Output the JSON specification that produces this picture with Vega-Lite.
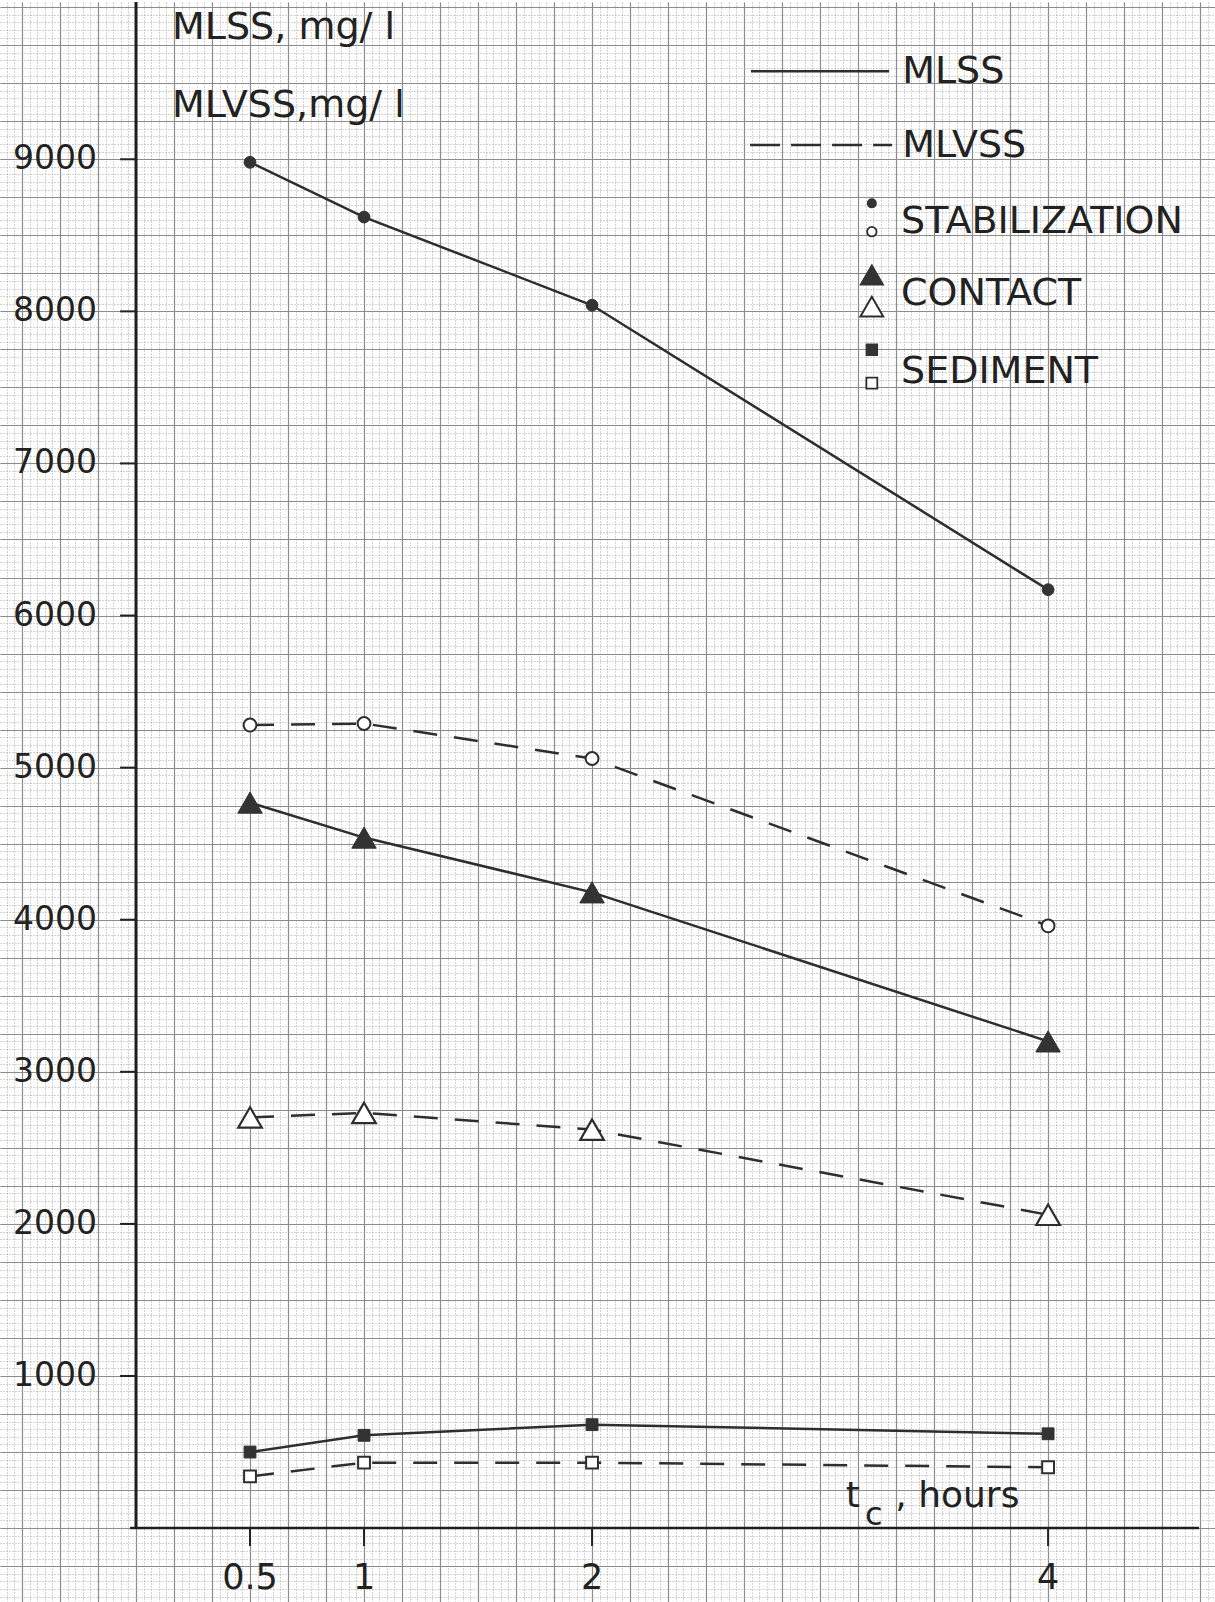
{
  "$schema": "https://vega.github.io/schema/vega-lite/v6.json",
  "width": 1215,
  "height": 1602,
  "autosize": {"type": "fit", "contains": "padding"},
  "padding": 0,
  "background": "white",
  "view": {"stroke": null},
  "config": {
    "text": {"font": "DejaVu Sans", "color": "#222222"},
    "axis": {"minExtent": 0, "maxExtent": 0, "labels": false, "ticks": false, "domain": false}
  },
  "datasets": {
    "series": [
      {"t": 0.5, "process": "STABILIZATION", "measure": "MLSS", "value": 8980},
      {"t": 1, "process": "STABILIZATION", "measure": "MLSS", "value": 8620},
      {"t": 2, "process": "STABILIZATION", "measure": "MLSS", "value": 8040},
      {"t": 4, "process": "STABILIZATION", "measure": "MLSS", "value": 6170},
      {"t": 0.5, "process": "STABILIZATION", "measure": "MLVSS", "value": 5280},
      {"t": 1, "process": "STABILIZATION", "measure": "MLVSS", "value": 5290},
      {"t": 2, "process": "STABILIZATION", "measure": "MLVSS", "value": 5060},
      {"t": 4, "process": "STABILIZATION", "measure": "MLVSS", "value": 3960},
      {"t": 0.5, "process": "CONTACT", "measure": "MLSS", "value": 4770},
      {"t": 1, "process": "CONTACT", "measure": "MLSS", "value": 4540},
      {"t": 2, "process": "CONTACT", "measure": "MLSS", "value": 4180},
      {"t": 4, "process": "CONTACT", "measure": "MLSS", "value": 3200},
      {"t": 0.5, "process": "CONTACT", "measure": "MLVSS", "value": 2700},
      {"t": 1, "process": "CONTACT", "measure": "MLVSS", "value": 2730},
      {"t": 2, "process": "CONTACT", "measure": "MLVSS", "value": 2620},
      {"t": 4, "process": "CONTACT", "measure": "MLVSS", "value": 2060},
      {"t": 0.5, "process": "SEDIMENT", "measure": "MLSS", "value": 500},
      {"t": 1, "process": "SEDIMENT", "measure": "MLSS", "value": 610},
      {"t": 2, "process": "SEDIMENT", "measure": "MLSS", "value": 680},
      {"t": 4, "process": "SEDIMENT", "measure": "MLSS", "value": 620},
      {"t": 0.5, "process": "SEDIMENT", "measure": "MLVSS", "value": 340},
      {"t": 1, "process": "SEDIMENT", "measure": "MLVSS", "value": 430},
      {"t": 2, "process": "SEDIMENT", "measure": "MLVSS", "value": 430},
      {"t": 4, "process": "SEDIMENT", "measure": "MLVSS", "value": 400}
    ],
    "yticks": [
      {"v": 1000}, {"v": 2000}, {"v": 3000}, {"v": 4000}, {"v": 5000},
      {"v": 6000}, {"v": 7000}, {"v": 8000}, {"v": 9000}
    ],
    "xticks": [
      {"t": 0.5, "label": "0.5"},
      {"t": 1, "label": "1"},
      {"t": 2, "label": "2"},
      {"t": 4, "label": "4"}
    ]
  },
  "resolve": {"axis": {"x": "independent", "y": "independent"}},
  "layer": [
    {
      "description": "graph paper: fine dotted rulings",
      "data": {"values": [{}]},
      "mark": {"type": "point", "opacity": 0},
      "encoding": {
        "x": {
          "datum": 0, "type": "quantitative",
          "scale": {"domain": [-0.5965, 4.732], "nice": false, "zero": false},
          "axis": {
            "title": null, "grid": true, "gridColor": "#a6a6a6", "gridDash": [1, 2], "gridWidth": 1,
            "values": [-0.5667,-0.5333,-0.5,-0.4667,-0.4333,-0.4,-0.3667,-0.3333,-0.3,-0.2667,-0.2333,-0.2,-0.1667,-0.1333,-0.1,-0.0667,-0.0333,
              0,0.0333,0.0667,0.1,0.1333,0.1667,0.2,0.2333,0.2667,0.3,0.3333,0.3667,0.4,0.4333,0.4667,0.5,0.5333,0.5667,0.6,0.6333,0.6667,0.7,0.7333,0.7667,0.8,0.8333,0.8667,0.9,0.9333,0.9667,
              1,1.0333,1.0667,1.1,1.1333,1.1667,1.2,1.2333,1.2667,1.3,1.3333,1.3667,1.4,1.4333,1.4667,1.5,1.5333,1.5667,1.6,1.6333,1.6667,1.7,1.7333,1.7667,1.8,1.8333,1.8667,1.9,1.9333,1.9667,
              2,2.0333,2.0667,2.1,2.1333,2.1667,2.2,2.2333,2.2667,2.3,2.3333,2.3667,2.4,2.4333,2.4667,2.5,2.5333,2.5667,2.6,2.6333,2.6667,2.7,2.7333,2.7667,2.8,2.8333,2.8667,2.9,2.9333,2.9667,
              3,3.0333,3.0667,3.1,3.1333,3.1667,3.2,3.2333,3.2667,3.3,3.3333,3.3667,3.4,3.4333,3.4667,3.5,3.5333,3.5667,3.6,3.6333,3.6667,3.7,3.7333,3.7667,3.8,3.8333,3.8667,3.9,3.9333,3.9667,
              4,4.0333,4.0667,4.1,4.1333,4.1667,4.2,4.2333,4.2667,4.3,4.3333,4.3667,4.4,4.4333,4.4667,4.5,4.5333,4.5667,4.6,4.6333,4.6667,4.7]
          }
        },
        "y": {
          "datum": 0, "type": "quantitative",
          "scale": {"domain": [-486, 10034], "nice": false, "zero": false},
          "axis": {"title": null, "grid": true, "gridColor": "#a6a6a6", "gridDash": [1, 2], "gridWidth": 1, "tickCount": 210}
        }
      }
    },
    {
      "description": "graph paper: 5 mm rulings",
      "data": {"values": [{}]},
      "mark": {"type": "point", "opacity": 0},
      "encoding": {
        "x": {
          "datum": 0, "type": "quantitative",
          "axis": {
            "title": null, "grid": true, "gridColor": "#8c8c8c", "gridWidth": 1.2,
            "values": [-0.5,-0.3333,-0.1667,0,0.1667,0.3333,0.5,0.6667,0.8333,1,1.1667,1.3333,1.5,1.6667,1.8333,2,2.1667,2.3333,2.5,2.6667,2.8333,3,3.1667,3.3333,3.5,3.6667,3.8333,4,4.1667,4.3333,4.5,4.6667]
          }
        },
        "y": {
          "datum": 0, "type": "quantitative",
          "axis": {
            "title": null, "grid": true, "gridColor": "#8c8c8c", "gridWidth": 1.2,
            "values": [-250,0,250,500,750,1000,1250,1500,1750,2000,2250,2500,2750,3000,3250,3500,3750,4000,4250,4500,4750,5000,5250,5500,5750,6000,6250,6500,6750,7000,7250,7500,7750,8000,8250,8500,8750,9000,9250,9500,9750,10000]
          }
        }
      }
    },
    {
      "description": "y axis line",
      "data": {"values": [{}]},
      "mark": {"type": "rule", "color": "#1e1e1e", "strokeWidth": 3},
      "encoding": {
        "x": {"datum": 0, "type": "quantitative", "axis": null},
        "y": {"datum": 0, "type": "quantitative", "axis": null},
        "y2": {"datum": 10034}
      }
    },
    {
      "description": "x axis line",
      "data": {"values": [{}]},
      "mark": {"type": "rule", "color": "#1e1e1e", "strokeWidth": 2.5},
      "encoding": {
        "x": {"datum": -0.026, "type": "quantitative", "axis": null},
        "x2": {"datum": 4.662},
        "y": {"datum": 0, "type": "quantitative", "axis": null}
      }
    },
    {
      "description": "y tick marks",
      "data": {"name": "yticks"},
      "mark": {"type": "rule", "color": "#222222", "strokeWidth": 2},
      "encoding": {
        "x": {"datum": -0.07, "type": "quantitative", "axis": null},
        "x2": {"datum": 0},
        "y": {"field": "v", "type": "quantitative", "axis": null}
      }
    },
    {
      "description": "y tick labels",
      "data": {"name": "yticks"},
      "mark": {"type": "text", "align": "right", "baseline": "middle", "fontSize": 33},
      "encoding": {
        "x": {"datum": -0.171, "type": "quantitative", "axis": null},
        "y": {"field": "v", "type": "quantitative", "axis": null},
        "text": {"field": "v", "type": "quantitative", "format": "d"}
      }
    },
    {
      "description": "x tick marks",
      "data": {"name": "xticks"},
      "mark": {"type": "rule", "color": "#222222", "strokeWidth": 2},
      "encoding": {
        "x": {"field": "t", "type": "quantitative", "axis": null},
        "y": {"datum": 0, "type": "quantitative", "axis": null},
        "y2": {"datum": -118}
      }
    },
    {
      "description": "x tick labels",
      "data": {"name": "xticks"},
      "mark": {"type": "text", "align": "center", "baseline": "middle", "fontSize": 35},
      "encoding": {
        "x": {"field": "t", "type": "quantitative", "axis": null},
        "y": {"datum": -328, "type": "quantitative", "axis": null},
        "text": {"field": "label", "type": "nominal"}
      }
    },
    {
      "description": "MLSS curves",
      "data": {"name": "series"},
      "transform": [{"filter": {"field": "measure", "equal": "MLSS"}}],
      "mark": {"type": "line", "color": "#2e2e2e", "strokeWidth": 2.5},
      "encoding": {
        "x": {"field": "t", "type": "quantitative", "axis": null},
        "y": {"field": "value", "type": "quantitative", "axis": null},
        "detail": {"field": "process", "type": "nominal"}
      }
    },
    {
      "description": "MLVSS curves",
      "data": {"name": "series"},
      "transform": [{"filter": {"field": "measure", "equal": "MLVSS"}}],
      "mark": {"type": "line", "color": "#2e2e2e", "strokeWidth": 2.5, "strokeDash": [24, 17]},
      "encoding": {
        "x": {"field": "t", "type": "quantitative", "axis": null},
        "y": {"field": "value", "type": "quantitative", "axis": null},
        "detail": {"field": "process", "type": "nominal"}
      }
    },
    {
      "data": {"name": "series"},
      "transform": [{"filter": {"and": [{"field": "process", "equal": "STABILIZATION"}, {"field": "measure", "equal": "MLSS"}]}}],
      "mark": {"type": "point", "shape": "circle", "size": 140, "filled": true, "fill": "#333333", "stroke": "#333333", "strokeWidth": 1, "opacity": 1},
      "encoding": {
        "x": {"field": "t", "type": "quantitative", "axis": null},
        "y": {"field": "value", "type": "quantitative", "axis": null}
      }
    },
    {
      "data": {"name": "series"},
      "transform": [{"filter": {"and": [{"field": "process", "equal": "STABILIZATION"}, {"field": "measure", "equal": "MLVSS"}]}}],
      "mark": {"type": "point", "shape": "circle", "size": 165, "filled": true, "fill": "white", "stroke": "#2e2e2e", "strokeWidth": 2, "opacity": 1},
      "encoding": {
        "x": {"field": "t", "type": "quantitative", "axis": null},
        "y": {"field": "value", "type": "quantitative", "axis": null}
      }
    },
    {
      "data": {"name": "series"},
      "transform": [{"filter": {"and": [{"field": "process", "equal": "CONTACT"}, {"field": "measure", "equal": "MLSS"}]}}],
      "mark": {"type": "point", "shape": "triangle-up", "size": 600, "filled": true, "fill": "#333333", "stroke": "#333333", "strokeWidth": 1, "opacity": 1},
      "encoding": {
        "x": {"field": "t", "type": "quantitative", "axis": null},
        "y": {"field": "value", "type": "quantitative", "axis": null}
      }
    },
    {
      "data": {"name": "series"},
      "transform": [{"filter": {"and": [{"field": "process", "equal": "CONTACT"}, {"field": "measure", "equal": "MLVSS"}]}}],
      "mark": {"type": "point", "shape": "triangle-up", "size": 560, "filled": true, "fill": "white", "stroke": "#2e2e2e", "strokeWidth": 2.2, "opacity": 1},
      "encoding": {
        "x": {"field": "t", "type": "quantitative", "axis": null},
        "y": {"field": "value", "type": "quantitative", "axis": null}
      }
    },
    {
      "data": {"name": "series"},
      "transform": [{"filter": {"and": [{"field": "process", "equal": "SEDIMENT"}, {"field": "measure", "equal": "MLSS"}]}}],
      "mark": {"type": "point", "shape": "square", "size": 140, "filled": true, "fill": "#333333", "stroke": "#333333", "strokeWidth": 1, "opacity": 1},
      "encoding": {
        "x": {"field": "t", "type": "quantitative", "axis": null},
        "y": {"field": "value", "type": "quantitative", "axis": null}
      }
    },
    {
      "data": {"name": "series"},
      "transform": [{"filter": {"and": [{"field": "process", "equal": "SEDIMENT"}, {"field": "measure", "equal": "MLVSS"}]}}],
      "mark": {"type": "point", "shape": "square", "size": 140, "filled": true, "fill": "white", "stroke": "#2e2e2e", "strokeWidth": 2, "opacity": 1},
      "encoding": {
        "x": {"field": "t", "type": "quantitative", "axis": null},
        "y": {"field": "value", "type": "quantitative", "axis": null}
      }
    },
    {
      "description": "axis titles",
      "data": {"values": [{}]},
      "layer": [
        {
          "mark": {"type": "text", "text": "MLSS, mg/ l", "align": "left", "baseline": "alphabetic", "fontSize": 38},
          "encoding": {"x": {"datum": 0.158, "type": "quantitative", "axis": null}, "y": {"datum": 9791, "type": "quantitative", "axis": null}}
        },
        {
          "mark": {"type": "text", "text": "MLVSS,mg/ l", "align": "left", "baseline": "alphabetic", "fontSize": 38},
          "encoding": {"x": {"datum": 0.158, "type": "quantitative", "axis": null}, "y": {"datum": 9279, "type": "quantitative", "axis": null}}
        },
        {
          "mark": {"type": "text", "text": "t", "align": "left", "baseline": "alphabetic", "fontSize": 36},
          "encoding": {"x": {"datum": 3.113, "type": "quantitative", "axis": null}, "y": {"datum": 140, "type": "quantitative", "axis": null}}
        },
        {
          "mark": {"type": "text", "text": "c", "align": "left", "baseline": "alphabetic", "fontSize": 32},
          "encoding": {"x": {"datum": 3.197, "type": "quantitative", "axis": null}, "y": {"datum": 22, "type": "quantitative", "axis": null}}
        },
        {
          "mark": {"type": "text", "text": ", hours", "align": "left", "baseline": "alphabetic", "fontSize": 36},
          "encoding": {"x": {"datum": 3.33, "type": "quantitative", "axis": null}, "y": {"datum": 140, "type": "quantitative", "axis": null}}
        }
      ]
    },
    {
      "description": "key",
      "data": {"values": [{}]},
      "layer": [
        {
          "mark": {"type": "rule", "color": "#2e2e2e", "strokeWidth": 2.5},
          "encoding": {"x": {"datum": 2.697, "type": "quantitative", "axis": null}, "x2": {"datum": 3.303}, "y": {"datum": 9579, "type": "quantitative", "axis": null}}
        },
        {
          "mark": {"type": "rule", "color": "#2e2e2e", "strokeWidth": 2.5, "strokeDash": [30, 11]},
          "encoding": {"x": {"datum": 2.693, "type": "quantitative", "axis": null}, "x2": {"datum": 3.316}, "y": {"datum": 9093, "type": "quantitative", "axis": null}}
        },
        {
          "mark": {"type": "text", "text": "MLSS", "align": "left", "baseline": "middle", "fontSize": 38},
          "encoding": {"x": {"datum": 3.36, "type": "quantitative", "axis": null}, "y": {"datum": 9574, "type": "quantitative", "axis": null}}
        },
        {
          "mark": {"type": "text", "text": "MLVSS", "align": "left", "baseline": "middle", "fontSize": 38},
          "encoding": {"x": {"datum": 3.36, "type": "quantitative", "axis": null}, "y": {"datum": 9085, "type": "quantitative", "axis": null}}
        },
        {
          "mark": {"type": "text", "text": "STABILIZATION", "align": "left", "baseline": "middle", "fontSize": 38},
          "encoding": {"x": {"datum": 3.355, "type": "quantitative", "axis": null}, "y": {"datum": 8590, "type": "quantitative", "axis": null}}
        },
        {
          "mark": {"type": "text", "text": "CONTACT", "align": "left", "baseline": "middle", "fontSize": 38},
          "encoding": {"x": {"datum": 3.355, "type": "quantitative", "axis": null}, "y": {"datum": 8117, "type": "quantitative", "axis": null}}
        },
        {
          "mark": {"type": "text", "text": "SEDIMENT", "align": "left", "baseline": "middle", "fontSize": 38},
          "encoding": {"x": {"datum": 3.355, "type": "quantitative", "axis": null}, "y": {"datum": 7598, "type": "quantitative", "axis": null}}
        },
        {
          "mark": {"type": "point", "shape": "circle", "size": 64, "filled": true, "fill": "#333333", "stroke": "#333333", "opacity": 1},
          "encoding": {"x": {"datum": 3.227, "type": "quantitative", "axis": null}, "y": {"datum": 8710, "type": "quantitative", "axis": null}}
        },
        {
          "mark": {"type": "point", "shape": "circle", "size": 90, "filled": true, "fill": "white", "stroke": "#2e2e2e", "strokeWidth": 1.8, "opacity": 1},
          "encoding": {"x": {"datum": 3.227, "type": "quantitative", "axis": null}, "y": {"datum": 8524, "type": "quantitative", "axis": null}}
        },
        {
          "mark": {"type": "point", "shape": "triangle-up", "size": 480, "filled": true, "fill": "#333333", "stroke": "#333333", "opacity": 1},
          "encoding": {"x": {"datum": 3.227, "type": "quantitative", "axis": null}, "y": {"datum": 8239, "type": "quantitative", "axis": null}}
        },
        {
          "mark": {"type": "point", "shape": "triangle-up", "size": 520, "filled": true, "fill": "white", "stroke": "#2e2e2e", "strokeWidth": 2, "opacity": 1},
          "encoding": {"x": {"datum": 3.227, "type": "quantitative", "axis": null}, "y": {"datum": 8031, "type": "quantitative", "axis": null}}
        },
        {
          "mark": {"type": "point", "shape": "square", "size": 110, "filled": true, "fill": "#333333", "stroke": "#333333", "opacity": 1},
          "encoding": {"x": {"datum": 3.227, "type": "quantitative", "axis": null}, "y": {"datum": 7747, "type": "quantitative", "axis": null}}
        },
        {
          "mark": {"type": "point", "shape": "square", "size": 120, "filled": true, "fill": "white", "stroke": "#2e2e2e", "strokeWidth": 1.8, "opacity": 1},
          "encoding": {"x": {"datum": 3.227, "type": "quantitative", "axis": null}, "y": {"datum": 7528, "type": "quantitative", "axis": null}}
        }
      ]
    }
  ]
}
